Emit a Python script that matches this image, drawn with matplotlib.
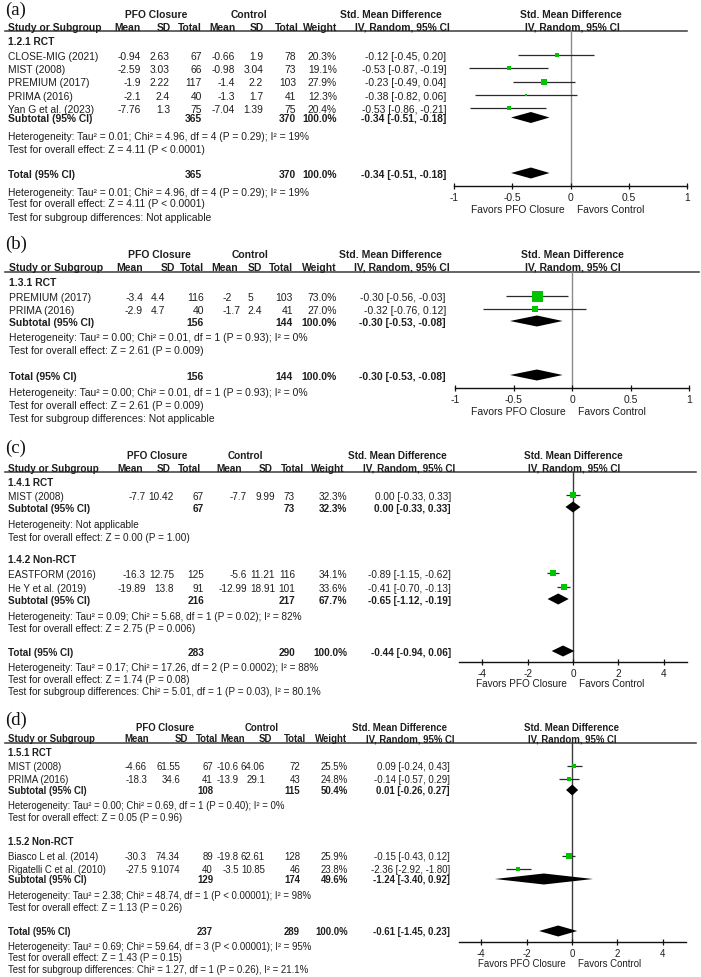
import matplotlib
matplotlib.use("Agg")
import matplotlib.pyplot as plt

plt.rcParams['font.family'] = ['Liberation Sans', 'DejaVu Sans']
plt.rcParams['axes.unicode_minus'] = False

# ======================= DATA =======================
COL_HEADERS = ["Mean", "SD", "Total", "Mean", "SD", "Total", "Weight"]
FAVORS = ("Favors PFO Closure", "Favors Control")

# ---- (a) ----
A_GROUP = "1.2.1 RCT"
A_STUDY = ["CLOSE-MIG (2021)", "MIST (2008)", "PREMIUM (2017)", "PRIMA (2016)", "Yan G et al. (2023)"]
A_PFO_MEAN = [-0.94, -2.59, -1.9, -2.1, -7.76]
A_PFO_SD = [2.63, 3.03, 2.22, 2.4, 1.3]
A_PFO_N = [67, 66, 117, 40, 75]
A_CTL_MEAN = [-0.66, -0.98, -1.4, -1.3, -7.04]
A_CTL_SD = [1.9, 3.04, 2.2, 1.7, 1.39]
A_CTL_N = [78, 73, 103, 41, 75]
A_WEIGHT = [20.3, 19.1, 27.9, 12.3, 20.4]
A_SMD = [-0.12, -0.53, -0.23, -0.38, -0.53]
A_LO = [-0.45, -0.87, -0.49, -0.82, -0.86]
A_HI = [0.20, -0.19, 0.04, 0.06, -0.21]
A_SUB = [365, 370, 100.0, -0.34, -0.51, -0.18]
A_SUB_HET = "Heterogeneity: Tau² = 0.01; Chi² = 4.96, df = 4 (P = 0.29); I² = 19%"
A_SUB_Z = "Test for overall effect: Z = 4.11 (P < 0.0001)"
A_TOT = [365, 370, 100.0, -0.34, -0.51, -0.18]
A_TOT_HET = "Heterogeneity: Tau² = 0.01; Chi² = 4.96, df = 4 (P = 0.29); I² = 19%"
A_TOT_Z = "Test for overall effect: Z = 4.11 (P < 0.0001)"
A_DIFF = "Test for subgroup differences: Not applicable"
A_TICKS = [-1, -0.5, 0, 0.5, 1]
A_XLIM = [-1, 1]

# ---- (b) ----
B_GROUP = "1.3.1 RCT"
B_STUDY = ["PREMIUM (2017)", "PRIMA (2016)"]
B_PFO_MEAN = [-3.4, -2.9]
B_PFO_SD = [4.4, 4.7]
B_PFO_N = [116, 40]
B_CTL_MEAN = [-2, -1.7]
B_CTL_SD = [5, 2.4]
B_CTL_N = [103, 41]
B_WEIGHT = [73.0, 27.0]
B_SMD = [-0.30, -0.32]
B_LO = [-0.56, -0.76]
B_HI = [-0.03, 0.12]
B_SUB = [156, 144, 100.0, -0.30, -0.53, -0.08]
B_SUB_HET = "Heterogeneity: Tau² = 0.00; Chi² = 0.01, df = 1 (P = 0.93); I² = 0%"
B_SUB_Z = "Test for overall effect: Z = 2.61 (P = 0.009)"
B_TOT = [156, 144, 100.0, -0.30, -0.53, -0.08]
B_TOT_HET = "Heterogeneity: Tau² = 0.00; Chi² = 0.01, df = 1 (P = 0.93); I² = 0%"
B_TOT_Z = "Test for overall effect: Z = 2.61 (P = 0.009)"
B_DIFF = "Test for subgroup differences: Not applicable"
B_TICKS = [-1, -0.5, 0, 0.5, 1]
B_XLIM = [-1, 1]

# ---- (c) ----
C1_GROUP = "1.4.1 RCT"
C1_STUDY = ["MIST (2008)"]
C1_PFO_MEAN = [-7.7]
C1_PFO_SD = [10.42]
C1_PFO_N = [67]
C1_CTL_MEAN = [-7.7]
C1_CTL_SD = [9.99]
C1_CTL_N = [73]
C1_WEIGHT = [32.3]
C1_SMD = [0.00]
C1_LO = [-0.33]
C1_HI = [0.33]
C1_SUB = [67, 73, 32.3, 0.00, -0.33, 0.33]
C1_SUB_HET = "Heterogeneity: Not applicable"
C1_SUB_Z = "Test for overall effect: Z = 0.00 (P = 1.00)"
C2_GROUP = "1.4.2 Non-RCT"
C2_STUDY = ["EASTFORM (2016)", "He Y et al. (2019)"]
C2_PFO_MEAN = [-16.3, -19.89]
C2_PFO_SD = [12.75, 13.8]
C2_PFO_N = [125, 91]
C2_CTL_MEAN = [-5.6, -12.99]
C2_CTL_SD = [11.21, 18.91]
C2_CTL_N = [116, 101]
C2_WEIGHT = [34.1, 33.6]
C2_SMD = [-0.89, -0.41]
C2_LO = [-1.15, -0.70]
C2_HI = [-0.62, -0.13]
C2_SUB = [216, 217, 67.7, -0.65, -1.12, -0.19]
C2_SUB_HET = "Heterogeneity: Tau² = 0.09; Chi² = 5.68, df = 1 (P = 0.02); I² = 82%"
C2_SUB_Z = "Test for overall effect: Z = 2.75 (P = 0.006)"
C_TOT = [283, 290, 100.0, -0.44, -0.94, 0.06]
C_TOT_HET = "Heterogeneity: Tau² = 0.17; Chi² = 17.26, df = 2 (P = 0.0002); I² = 88%"
C_TOT_Z = "Test for overall effect: Z = 1.74 (P = 0.08)"
C_DIFF = "Test for subgroup differences: Chi² = 5.01, df = 1 (P = 0.03), I² = 80.1%"
C_TICKS = [-4, -2, 0, 2, 4]
C_XLIM = [-5, 5]

# ---- (d) ----
D1_GROUP = "1.5.1 RCT"
D1_STUDY = ["MIST (2008)", "PRIMA (2016)"]
D1_PFO_MEAN = [-4.66, -18.3]
D1_PFO_SD = [61.55, 34.6]
D1_PFO_N = [67, 41]
D1_CTL_MEAN = [-10.6, -13.9]
D1_CTL_SD = [64.06, 29.1]
D1_CTL_N = [72, 43]
D1_WEIGHT = [25.5, 24.8]
D1_SMD = [0.09, -0.14]
D1_LO = [-0.24, -0.57]
D1_HI = [0.43, 0.29]
D1_SUB = [108, 115, 50.4, 0.01, -0.26, 0.27]
D1_SUB_HET = "Heterogeneity: Tau² = 0.00; Chi² = 0.69, df = 1 (P = 0.40); I² = 0%"
D1_SUB_Z = "Test for overall effect: Z = 0.05 (P = 0.96)"
D2_GROUP = "1.5.2 Non-RCT"
D2_STUDY = ["Biasco L et al. (2014)", "Rigatelli C et al. (2010)"]
D2_PFO_MEAN = [-30.3, -27.5]
D2_PFO_SD = [74.34, 9.1074]
D2_PFO_N = [89, 40]
D2_CTL_MEAN = [-19.8, -3.5]
D2_CTL_SD = [62.61, 10.85]
D2_CTL_N = [128, 46]
D2_WEIGHT = [25.9, 23.8]
D2_SMD = [-0.15, -2.36]
D2_LO = [-0.43, -2.92]
D2_HI = [0.12, -1.80]
D2_SUB = [129, 174, 49.6, -1.24, -3.40, 0.92]
D2_SUB_HET = "Heterogeneity: Tau² = 2.38; Chi² = 48.74, df = 1 (P < 0.00001); I² = 98%"
D2_SUB_Z = "Test for overall effect: Z = 1.13 (P = 0.26)"
D_TOT = [237, 289, 100.0, -0.61, -1.45, 0.23]
D_TOT_HET = "Heterogeneity: Tau² = 0.69; Chi² = 59.64, df = 3 (P < 0.00001); I² = 95%"
D_TOT_Z = "Test for overall effect: Z = 1.43 (P = 0.15)"
D_DIFF = "Test for subgroup differences: Chi² = 1.27, df = 1 (P = 0.26), I² = 21.1%"
D_TICKS = [-4, -2, 0, 2, 4]
D_XLIM = [-5, 5]

# ======================= STYLE / LAYOUT =======================
W, H = 701, 978
TC = '#1e1e1e'
GREEN = '#00c400'
CI_C = '#2a2a2a'
LC = '#3a3a3a'

fig = plt.figure(figsize=(W / 100, H / 100), dpi=100)
fig.patch.set_facecolor('white')
T = fig.add_axes([0, 0, 1, 1])
T.set_xlim(0, W)
T.set_ylim(H, 0)
T.axis('off')

CUR = {'fs': 7.3}


def txt(x, y, s, ha='left', bold=False, dx_pt=0.0):
    fs = CUR['fs']
    T.annotate(s, xy=(x, y + 3.6 * fs / 7.3), xycoords='data',
               xytext=(dx_pt, 0), textcoords='offset points',
               ha=ha, va='baseline', fontsize=fs,
               fontweight='bold' if bold else 'normal', color=TC,
               annotation_clip=False)


def header(L, label):
    CUR['fs'] = L['fs']
    T.text(5, L['label'] + 5, label, ha='left', va='baseline', fontsize=13.5,
           family=['Liberation Serif', 'DejaVu Serif'], color='#111111')
    txt(L['pfo_x'], L['h1'], 'PFO Closure', ha='center', bold=True)
    txt(L['ctl_x'], L['h1'], 'Control', ha='center', bold=True)
    txt(L['smd_hdr'][0], L['h1'], 'Std. Mean Difference', ha='right', bold=True)
    txt(L['plot_hdr'][0], L['h1'], 'Std. Mean Difference', ha='center', bold=True)
    txt(L['x0'], L['h2'], 'Study or Subgroup', bold=True)
    for x, s in zip(L['hdr_x'], COL_HEADERS):
        txt(x, L['h2'], s, ha='right', bold=True)
    txt(L['smd_hdr'][1], L['h2'], 'IV, Random, 95% CI', ha='right', bold=True)
    txt(L['plot_hdr'][1], L['h2'], 'IV, Random, 95% CI', ha='center', bold=True)
    T.plot([5, L['line_x1']], [L['line'], L['line']], color=LC, lw=1.1)


def forest_axes(L, xlim, ticks):
    x0, x1 = L['ax_x']
    ax = fig.add_axes([x0 / W, 1 - L['axis'] / H, (x1 - x0) / W,
                       (L['axis'] - L['line']) / H])
    ax.set_xlim(*xlim)
    ax.set_ylim(L['axis'], L['line'])
    ax.patch.set_alpha(0)
    for s in ['top', 'left', 'right']:
        ax.spines[s].set_visible(False)
    ax.spines['bottom'].set_color('#111111')
    ax.spines['bottom'].set_linewidth(1.0)
    ax.set_yticks([])
    ax.set_xticks(ticks, labels=[f"{t:g}" for t in ticks])
    ax.tick_params(axis='x', direction='inout', length=5, width=0.9, pad=2,
                   labelsize=L['fs'], labelcolor=TC, color='#111111')
    ax.axvline(0, color=L['zc'], lw=1.0, zorder=1)
    dy = -(L['fav'] - L['axis'] + 3.6) * 0.72
    ax.annotate(FAVORS[0], xy=(0, L['axis']), xytext=(-4.5, dy),
                textcoords='offset points', ha='right', va='baseline',
                fontsize=L['fs'], color=TC, annotation_clip=False)
    ax.annotate(FAVORS[1], xy=(0, L['axis']), xytext=(4.5, dy),
                textcoords='offset points', ha='left', va='baseline',
                fontsize=L['fs'], color=TC, annotation_clip=False)
    return ax


def study_rows(ax, L, ys, names, pm, psd, pn, cm, csd, cn, w, est, lo, hi):
    for i, y in enumerate(ys):
        txt(L['x0'], y, names[i])
        vals = [f"{pm[i]:g}", f"{psd[i]:g}", f"{pn[i]}", f"{cm[i]:g}",
                f"{csd[i]:g}", f"{cn[i]}", f"{w[i]:.1f}%"]
        for j, (x, s) in enumerate(zip(L['val_x'], vals)):
            shift = 0.0
            if L.get('dec') and j in (0, 1, 3, 4) and '.' not in s:
                shift = -0.834 * L['fs']   # width of ".0" -> decimal alignment
            txt(x, y, s, ha='right', dx_pt=shift)
        txt(L['smd_val'], y, f"{est[i]:.2f} [{lo[i]:.2f}, {hi[i]:.2f}]", ha='right')
        ax.hlines(y, lo[i], hi[i], color=CI_C, lw=0.9, zorder=2)
        side = 11 * (w[i] / 73.0) ** 0.75
        ax.plot([est[i]], [y], marker='s', ms=side * 0.72, color=GREEN,
                mec=GREEN, mew=0, ls='none', zorder=3)


def pooled_row(ax, L, y, label, info):
    ne, nc, w, est, lo, hi = info
    txt(L['x0'], y, label, bold=True)
    txt(L['val_x'][2], y, str(ne), ha='right', bold=True)
    txt(L['val_x'][5], y, str(nc), ha='right', bold=True)
    txt(L['val_x'][6], y, f"{w:.1f}%", ha='right', bold=True)
    txt(L['smd_val'], y, f"{est:.2f} [{lo:.2f}, {hi:.2f}]", ha='right', bold=True)
    ax.fill([lo, est, hi, est], [y, y - 5.5, y, y + 5.5], color='black',
            lw=0, zorder=3)


LA = dict(fs=7.35, x0=8, label=10, h1=14, h2=27, line=32, axis=187, fav=209, line_x1=687,
          hdr_x=[141, 171, 202, 236, 264, 299, 337],
          val_x=[141, 170, 202, 235, 263, 296, 337],
          pfo_x=156, ctl_x=249, smd_hdr=(442, 450), smd_val=446,
          plot_hdr=(571, 572), ax_x=(454, 687), zc='#8a8a8a')
LB = dict(fs=7.45, x0=9, dec=True, label=244, h1=254, h2=267, line=273, axis=389, fav=411,
          line_x1=699,
          hdr_x=[143, 175, 204, 238, 262, 293, 337],
          val_x=[143, 165, 204, 241, 262, 293, 337],
          pfo_x=159, ctl_x=250, smd_hdr=(442, 450), smd_val=446,
          plot_hdr=(572, 573), ax_x=(455, 689), zc='#8a8a8a')
LCc = dict(fs=7.17, x0=8, label=448, h1=455, h2=468, line=473, axis=663, fav=683, line_x1=696,
           hdr_x=[143, 171, 201, 242, 273, 304, 344],
           val_x=[146, 174, 204, 247, 275, 295, 347],
           pfo_x=157, ctl_x=245, smd_hdr=(447, 455), smd_val=451,
           plot_hdr=(573, 574), ax_x=(459.5, 686.5), zc='#3c3c3c')
LD = dict(fs=6.9, x0=8, label=720, h1=728, h2=739, line=744, axis=943, fav=963, line_x1=696,
          hdr_x=[149, 188, 218, 245, 272, 306, 347],
          val_x=[147, 180, 213, 239, 265, 300, 348],
          pfo_x=165, ctl_x=262, smd_hdr=(447, 455), smd_val=450,
          plot_hdr=(572, 572), ax_x=(458.5, 685.5), zc='#3c3c3c')

# ---------------- panel (a) ----------------
header(LA, '(a)')
ax = forest_axes(LA, A_XLIM, A_TICKS)
txt(8, 41, A_GROUP, bold=True)
study_rows(ax, LA, [56, 69.3, 82.6, 96, 109.3], A_STUDY, A_PFO_MEAN, A_PFO_SD, A_PFO_N,
           A_CTL_MEAN, A_CTL_SD, A_CTL_N, A_WEIGHT, A_SMD, A_LO, A_HI)
pooled_row(ax, LA, 118.5, "Subtotal (95% CI)", A_SUB)
txt(8, 136, A_SUB_HET)
txt(8, 149, A_SUB_Z)
pooled_row(ax, LA, 174, "Total (95% CI)", A_TOT)
txt(8, 192, A_TOT_HET)
txt(8, 203.5, A_TOT_Z)
txt(8, 217, A_DIFF)

# ---------------- panel (b) ----------------
header(LB, '(b)')
ax = forest_axes(LB, B_XLIM, B_TICKS)
txt(9, 282, B_GROUP, bold=True)
study_rows(ax, LB, [297, 310], B_STUDY, B_PFO_MEAN, B_PFO_SD, B_PFO_N,
           B_CTL_MEAN, B_CTL_SD, B_CTL_N, B_WEIGHT, B_SMD, B_LO, B_HI)
pooled_row(ax, LB, 322, "Subtotal (95% CI)", B_SUB)
txt(9, 337, B_SUB_HET)
txt(9, 350, B_SUB_Z)
pooled_row(ax, LB, 376, "Total (95% CI)", B_TOT)
txt(9, 392, B_TOT_HET)
txt(9, 405, B_TOT_Z)
txt(9, 418, B_DIFF)

# ---------------- panel (c) ----------------
header(LCc, '(c)')
ax = forest_axes(LCc, C_XLIM, C_TICKS)
txt(8, 482.5, C1_GROUP, bold=True)
study_rows(ax, LCc, [496], C1_STUDY, C1_PFO_MEAN, C1_PFO_SD, C1_PFO_N,
           C1_CTL_MEAN, C1_CTL_SD, C1_CTL_N, C1_WEIGHT, C1_SMD, C1_LO, C1_HI)
pooled_row(ax, LCc, 508, "Subtotal (95% CI)", C1_SUB)
txt(8, 524, C1_SUB_HET)
txt(8, 537, C1_SUB_Z)
txt(8, 559, C2_GROUP, bold=True)
study_rows(ax, LCc, [574, 588], C2_STUDY, C2_PFO_MEAN, C2_PFO_SD, C2_PFO_N,
           C2_CTL_MEAN, C2_CTL_SD, C2_CTL_N, C2_WEIGHT, C2_SMD, C2_LO, C2_HI)
pooled_row(ax, LCc, 600, "Subtotal (95% CI)", C2_SUB)
txt(8, 616, C2_SUB_HET)
txt(8, 628, C2_SUB_Z)
pooled_row(ax, LCc, 652, "Total (95% CI)", C_TOT)
txt(8, 667, C_TOT_HET)
txt(8, 679, C_TOT_Z)
txt(8, 691, C_DIFF)

# ---------------- panel (d) ----------------
header(LD, '(d)')
ax = forest_axes(LD, D_XLIM, D_TICKS)
txt(8, 753, D1_GROUP, bold=True)
study_rows(ax, LD, [767, 780], D1_STUDY, D1_PFO_MEAN, D1_PFO_SD, D1_PFO_N,
           D1_CTL_MEAN, D1_CTL_SD, D1_CTL_N, D1_WEIGHT, D1_SMD, D1_LO, D1_HI)
pooled_row(ax, LD, 791, "Subtotal (95% CI)", D1_SUB)
txt(8, 806, D1_SUB_HET)
txt(8, 818, D1_SUB_Z)
txt(8, 842, D2_GROUP, bold=True)
study_rows(ax, LD, [857, 870], D2_STUDY, D2_PFO_MEAN, D2_PFO_SD, D2_PFO_N,
           D2_CTL_MEAN, D2_CTL_SD, D2_CTL_N, D2_WEIGHT, D2_SMD, D2_LO, D2_HI)
pooled_row(ax, LD, 880, "Subtotal (95% CI)", D2_SUB)
txt(8, 896, D2_SUB_HET)
txt(8, 908, D2_SUB_Z)
pooled_row(ax, LD, 932, "Total (95% CI)", D_TOT)
txt(8, 947, D_TOT_HET)
txt(8, 958, D_TOT_Z)
txt(8, 970, D_DIFF)

fig.savefig('out.png', dpi=100, facecolor='white')
